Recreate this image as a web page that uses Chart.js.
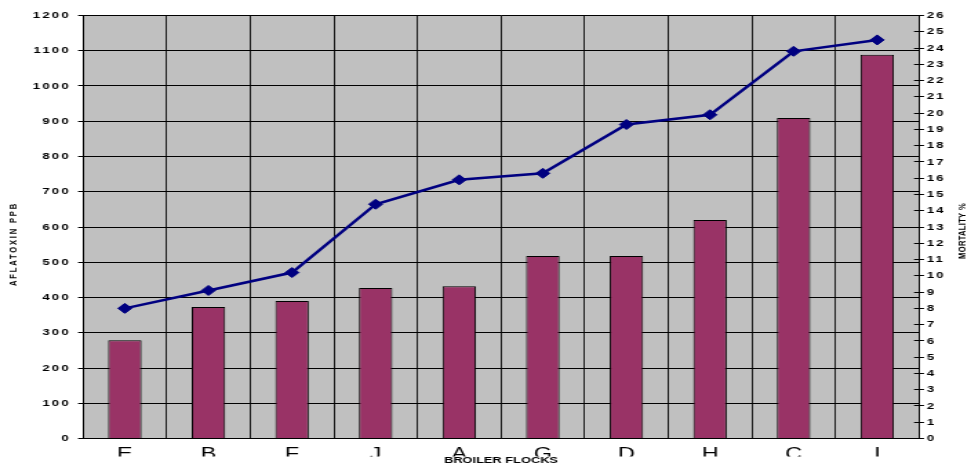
<!DOCTYPE html>
<html>
<head>
<meta charset="utf-8">
<title>Aflatoxin and mortality in broiler flocks</title>
<script src="https://cdn.jsdelivr.net/npm/chart.js@4.4.1/dist/chart.umd.min.js"></script>
<style>
  html, body { margin: 0; padding: 0; background: #ffffff; overflow: hidden; }
  /* the chart is laid out narrow and widened horizontally */
  #wrap {
    position: absolute; left: 0; top: 0;
    width: 704px; height: 468px;
    transform: scaleX(1.37926); transform-origin: 0 0;
  }
</style>
</head>
<body>
<div id="wrap"><canvas id="chart"></canvas></div>
<script>
// Broiler flocks, ordered by aflatoxin level
const flocks = ['E', 'B', 'F', 'J', 'A', 'G', 'D', 'H', 'C', 'I'];
// Aflatoxin in feed (ppb), bars on the left axis
const aflatoxinPpb = [279, 373, 390, 427, 432, 518, 518, 620, 909, 1089];
// Flock mortality (%), line on the right axis
const mortalityPct = [8.0, 9.1, 10.2, 14.4, 15.9, 16.3, 19.3, 19.9, 23.8, 24.5];
// Axis ranges and tick steps
const aflatoxinAxis = [0, 1200, 100];
const mortalityAxis = [0, 26, 1];
// Axis titles
const titleX = 'BROILER FLOCKS';
const titleLeft = 'AFLATOXIN PPB';
const titleRight = 'MORTALITY %';

const FAMILY = '"Liberation Sans", Arial, Helvetica, sans-serif';
const LABEL_CLIP_Y = 456.5;
const plain = (v) => String(v);

// Paints the grey plot area and trims the category letters at the bottom
const frame = {
  id: 'frame',
  beforeDraw(chart) {
    const { ctx, chartArea: a } = chart;
    ctx.save();
    ctx.fillStyle = '#c0c0c0';
    ctx.fillRect(a.left, a.top, a.right - a.left, a.bottom - a.top);
    ctx.beginPath();
    ctx.rect(0, 0, chart.width, LABEL_CLIP_Y);
    ctx.clip();
  },
  beforeDatasetsDraw(chart) {
    chart.ctx.restore();
  },
  afterDatasetsDraw(chart) {
    // value labels on both y axes are spaced out
    chart.ctx.save();
    chart.ctx.letterSpacing = '1.6px';
  },
  afterDraw(chart) {
    const { ctx, chartArea: a } = chart;
    ctx.restore();

    // inner half of the cross tick marks on the right axis
    const r = chart.scales.y1;
    ctx.save();
    ctx.strokeStyle = '#000';
    ctx.lineWidth = 1;
    ctx.beginPath();
    r.ticks.forEach((t, i) => {
      const y = Math.round(r.getPixelForTick(i) - 0.5) + 0.5;
      ctx.moveTo(a.right - 3.6, y);
      ctx.lineTo(a.right, y);
    });
    ctx.stroke();
    ctx.restore();

    // axis titles
    const midY = (a.top + a.bottom) / 2;
    ctx.save();
    ctx.fillStyle = '#000';
    ctx.textAlign = 'center';

    ctx.font = 'bold 9.3px ' + FAMILY;
    ctx.textBaseline = 'alphabetic';
    ctx.fillText(titleX, (a.left + a.right) / 2, a.bottom + 24);

    ctx.textBaseline = 'middle';
    ctx.save();
    ctx.font = 'bold 7.6px ' + FAMILY;
    ctx.letterSpacing = '1.8px';
    ctx.translate(chart.scales.y.left + 10.2, midY + 17);
    ctx.rotate(-Math.PI / 2);
    ctx.fillText(titleLeft, 0, 0);
    ctx.restore();

    ctx.save();
    ctx.font = 'bold 7.6px ' + FAMILY;
    ctx.letterSpacing = '0.3px';
    ctx.translate(chart.scales.y1.right - 5.8, midY + 4);
    ctx.rotate(-Math.PI / 2);
    ctx.fillText(titleRight, 0, 0);
    ctx.restore();

    ctx.restore();
  }
};

new Chart(document.getElementById('chart'), {
  data: {
    labels: flocks,
    datasets: [
      {
        type: 'line',
        label: titleRight,
        data: mortalityPct,
        yAxisID: 'y1',
        order: 0,
        borderColor: '#000080',
        borderWidth: 2.5,
        tension: 0,
        pointStyle: 'rectRot',
        pointRadius: 5,
        pointBackgroundColor: '#000080',
        pointBorderColor: '#000080',
        pointBorderWidth: 1
      },
      {
        type: 'bar',
        label: titleLeft,
        data: aflatoxinPpb,
        yAxisID: 'y',
        order: 1,
        backgroundColor: '#993366',
        borderColor: '#000000',
        borderWidth: 1,
        barPercentage: 0.4,
        categoryPercentage: 1
      }
    ]
  },
  options: {
    responsive: true,
    maintainAspectRatio: false,
    animation: false,
    devicePixelRatio: 1,
    layout: { padding: { top: 15.5, left: 0, right: 0, bottom: 0 } },
    plugins: { legend: { display: false }, tooltip: { enabled: false } },
    scales: {
      x: {
        type: 'category',
        offset: true,
        grid: { color: '#1a1a1a', lineWidth: 1, drawTicks: false, offset: true },
        border: { display: true, color: '#000', width: 1, z: 1 },
        ticks: {
          color: '#000',
          font: { family: FAMILY, size: 17 },
          padding: 6,
          maxRotation: 0,
          autoSkip: false
        },
        afterFit(s) { s.height = 29.5; }
      },
      y: {
        position: 'left',
        min: aflatoxinAxis[0],
        max: aflatoxinAxis[1],
        grid: { color: '#000', lineWidth: 1, tickLength: 3.6, tickColor: '#000' },
        border: { display: true, color: '#000', width: 1, z: 1 },
        ticks: {
          stepSize: aflatoxinAxis[2],
          callback: plain,
          color: '#000',
          font: { family: FAMILY, size: 9.5, weight: 'bold' },
          padding: 5.3,
          z: 1
        },
        afterFit(s) { s.width = 60.2; }
      },
      y1: {
        position: 'right',
        min: mortalityAxis[0],
        max: mortalityAxis[1],
        grid: { drawOnChartArea: false, color: '#000', lineWidth: 1, tickLength: 3.6 },
        border: { display: true, color: '#000', width: 1, z: 1 },
        ticks: {
          stepSize: mortalityAxis[2],
          callback: plain,
          color: '#000',
          font: { family: FAMILY, size: 9.5, weight: 'bold' },
          padding: 2,
          autoSkip: false,
          z: 1
        },
        afterFit(s) { s.width = 37.7; }
      }
    }
  },
  plugins: [frame]
});
</script>
</body>
</html>
